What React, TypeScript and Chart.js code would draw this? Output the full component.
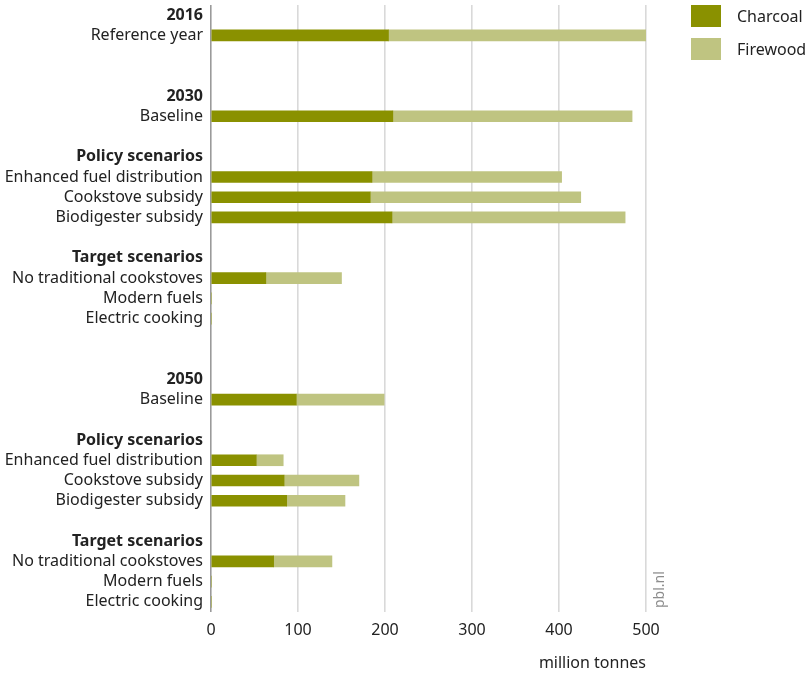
import React, { useEffect, useRef } from "react";
import { Chart, registerables } from "chart.js";

Chart.register(...registerables);

const categories = [
  "2016", "Reference year", "", "",
  "2030", "Baseline", "",
  "Policy scenarios", "Enhanced fuel distribution", "Cookstove subsidy", "Biodigester subsidy", "",
  "Target scenarios", "No traditional cookstoves", "Modern fuels", "Electric cooking", "", "",
  "2050", "Baseline", "",
  "Policy scenarios", "Enhanced fuel distribution", "Cookstove subsidy", "Biodigester subsidy", "",
  "Target scenarios", "No traditional cookstoves", "Modern fuels", "Electric cooking",
];

const headerRows = [0, 4, 7, 12, 18, 21, 26];

const charcoal = [
  null, 204, null, null,
  null, 209, null,
  null, 185, 183, 208, null,
  null, 63, 0, 0, null, null,
  null, 98, null,
  null, 52, 84, 87, null,
  null, 72, 0, 0,
];

const firewood = [
  null, 296, null, null,
  null, 275, null,
  null, 218, 242, 268, null,
  null, 87, 0, 0, null, null,
  null, 101, null,
  null, 31, 86, 67, null,
  null, 67, 0, 0,
];

const xTicks = [0, 100, 200, 300, 400, 500];
const seriesNames = ["Charcoal", "Firewood"];
const seriesColors = ["#8a9100", "#bfc481"];
const xTitle = "million tonnes";
const source = "pbl.nl";

const FONT = "'Noto Sans', sans-serif";

export default function App() {
  const canvasRef = useRef<HTMLCanvasElement | null>(null);

  useEffect(() => {
    if (!canvasRef.current) return;
    const sourcePlugin = {
      id: "sourceText",
      afterDraw(chart: any) {
        const ctx = chart.ctx;
        const x = chart.scales.x.getPixelForValue(500);
        ctx.save();
        ctx.translate(x + 18, chart.chartArea.bottom - 4);
        ctx.rotate(-Math.PI / 2);
        ctx.font = `14px ${FONT}`;
        ctx.fillStyle = "#8c8c8c";
        ctx.textAlign = "left";
        ctx.textBaseline = "alphabetic";
        ctx.fillText(source, 0, 0);
        ctx.restore();
      },
    };
    const chart = new Chart(canvasRef.current, {
      type: "bar",
      data: {
        labels: categories,
        datasets: [
          { label: seriesNames[0], data: charcoal as any, backgroundColor: seriesColors[0], barThickness: 11 },
          { label: seriesNames[1], data: firewood as any, backgroundColor: seriesColors[1], barThickness: 11 },
        ],
      },
      options: {
        indexAxis: "y",
        animation: false,
        responsive: false,
        maintainAspectRatio: false,
        layout: { padding: { top: 5, right: 163, left: 0, bottom: 0 } },
        plugins: { legend: { display: false }, tooltip: { enabled: false } },
        scales: {
          x: {
            stacked: true,
            min: 0,
            max: 500,
            afterBuildTicks: (s: any) => { s.ticks = xTicks.map((v) => ({ value: v })); },
            afterFit: (s: any) => { s.height = 63; s.paddingLeft = 0; s.paddingRight = 0; },
            grid: {
              color: (c: any) => (c.tick && c.tick.value === 0 ? "#9a9a9a" : "#d9d9d9"),
              lineWidth: 1.6,
              drawTicks: false,
            },
            border: { display: false },
            ticks: { color: "#222", font: { size: 16, family: FONT }, padding: 9 },
            title: {
              display: true,
              text: xTitle,
              align: "end",
              color: "#222",
              font: { size: 16, family: FONT },
              padding: { top: 0, bottom: 2 },
            },
          },
          y: {
            stacked: true,
            afterFit: (s: any) => { s.width = 211; s.paddingTop = 0; s.paddingBottom = 0; },
            grid: { display: false, drawTicks: false },
            border: { display: false },
            ticks: {
              autoSkip: false,
              color: "#222",
              padding: 8,
              font: (c: any) => ({
                size: 16,
                family: FONT,
                weight: headerRows.includes(c.index) ? "bold" : "normal",
              }),
            },
          },
        },
      },
      plugins: [sourcePlugin],
    });
    return () => chart.destroy();
  }, []);

  return (
    <div style={{ position: "absolute", left: 0, top: 0, width: 809, height: 675, background: "#fff" }}>
      <canvas ref={canvasRef} width={809} height={675} style={{ position: "absolute", left: 0, top: 0 }} />
      {seriesNames.map((name, i) => (
        <div key={name} style={{ position: "absolute", left: 691, top: 5 + i * 33, height: 22, display: "flex", alignItems: "center", fontFamily: FONT, fontSize: 16, color: "#222" }}>
          <span style={{ display: "inline-block", width: 30, height: 22, background: seriesColors[i], marginRight: 16 }} />
          <span>{name}</span>
        </div>
      ))}
    </div>
  );
}
